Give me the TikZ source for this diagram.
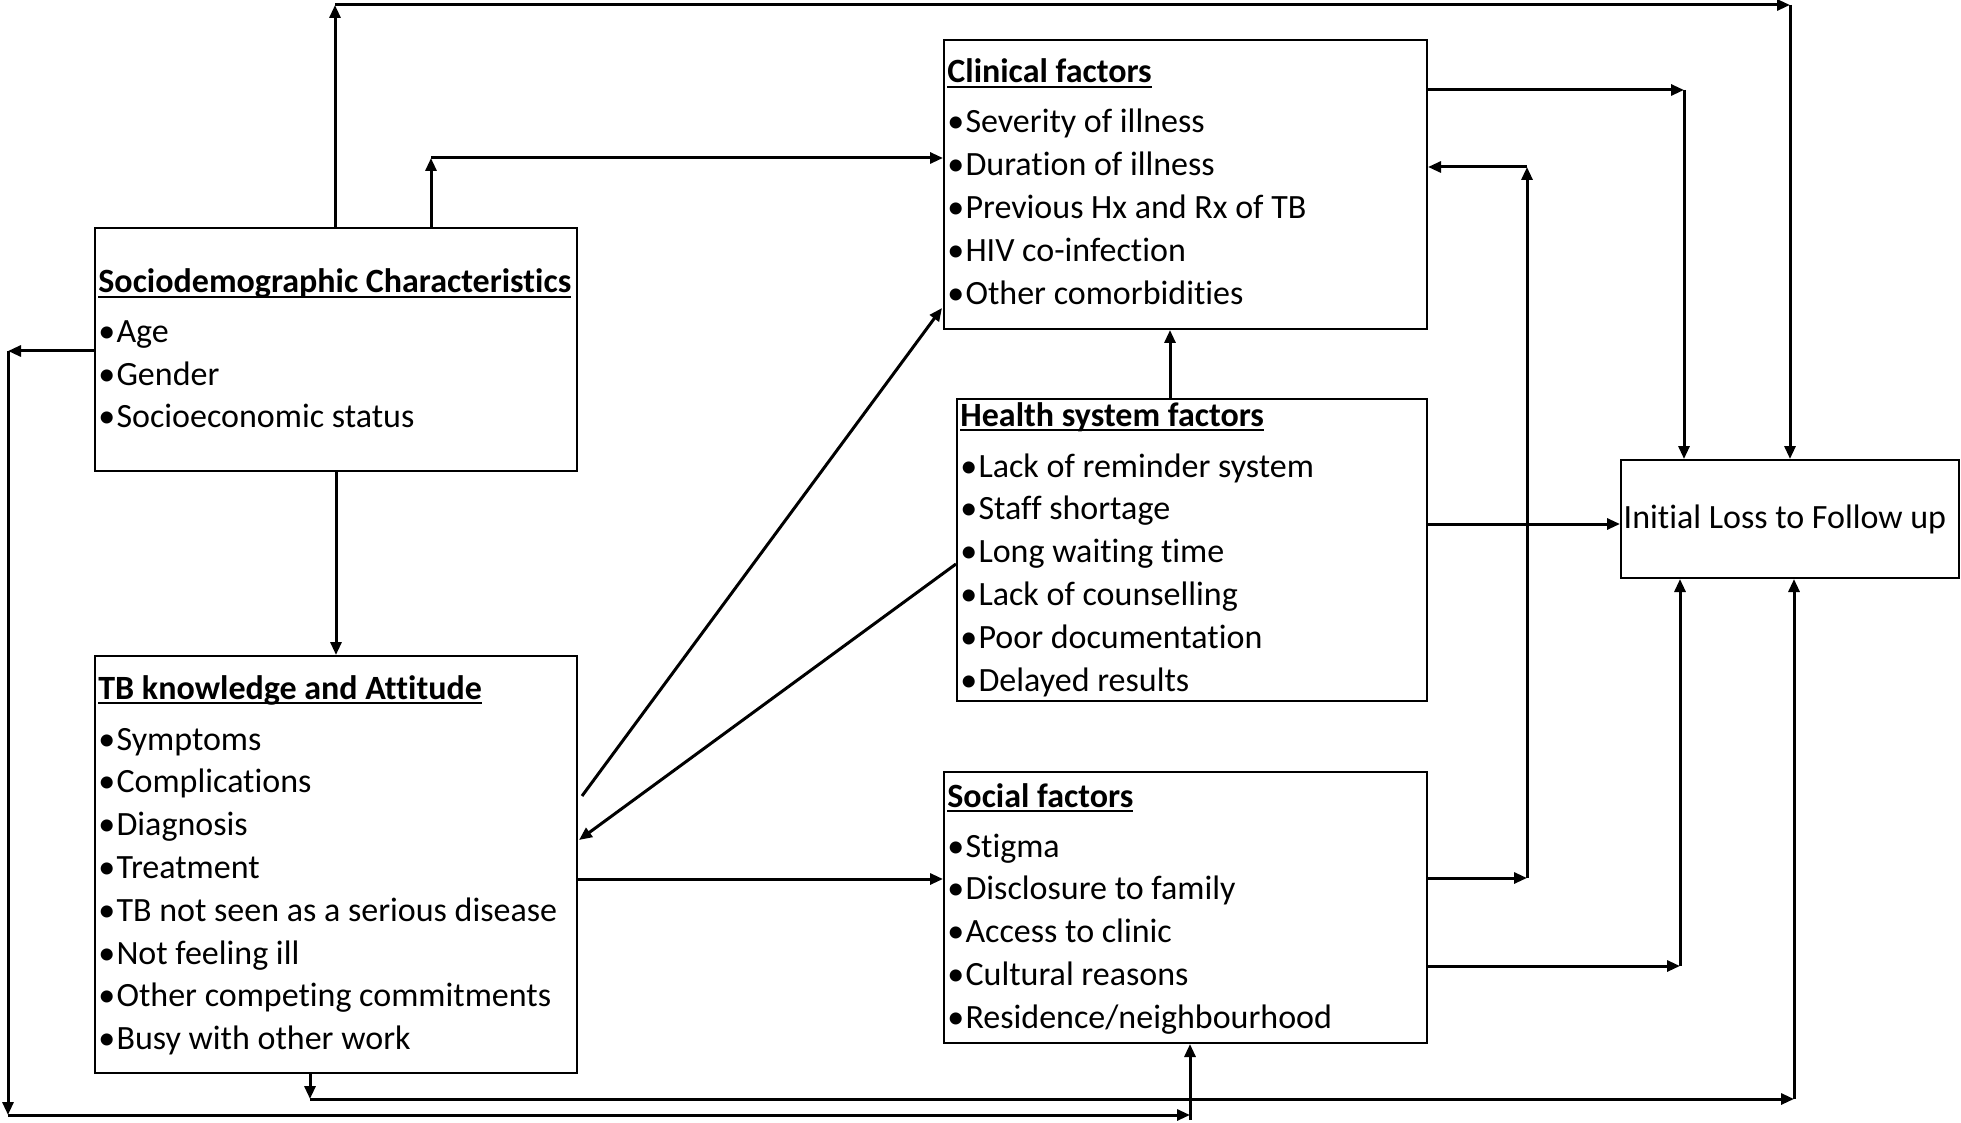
\documentclass[tikz,border=0pt]{standalone}
\usepackage{fontspec}
\setmainfont{Carlito}[Ligatures=NoCommon]
\usetikzlibrary{arrows.meta,calc}
\newcommand\myul[1]{\setbox0\hbox{#1}\rlap{\rule[-2.4pt]{\wd0}{0.9pt}}\box0}
\newcommand\bul{•\kern0.6pt}
\begin{document}
\begin{tikzpicture}[x=0.5pt,y=-0.5pt,
  box/.style={draw,line width=1pt,inner sep=0pt},
  conn/.style={line width=1.5pt,-{Triangle[length=6.5pt,width=5.5pt]}},
  txt/.style={inner sep=0pt,anchor=base west,font=\fontsize{17}{20}\selectfont},
  ttl/.style={txt,font=\fontsize{17}{20}\selectfont\bfseries}]
\useasboundingbox (0,0) rectangle (1961,1123);

% boxes
\node[box,minimum width=241pt,minimum height=121.5pt] (socio) at (336,349.5) {};
\node[box,minimum width=241pt,minimum height=208.5pt] (tb) at (336,864.5) {};
\node[box,minimum width=241.5pt,minimum height=144.5pt] (clin) at (1185.5,184.5) {};
\node[box,minimum width=235pt,minimum height=151pt] (health) at (1192,550) {};
\node[box,minimum width=241.5pt,minimum height=135.5pt] (social) at (1185.5,907.5) {};
\node[box,minimum width=169pt,minimum height=59pt] (init) at (1790,519) {};
\node[inner sep=0pt,font=\fontsize{17}{20}\selectfont] (initt) at (1785,519) {Initial Loss to Follow up};

% texts
\node[ttl] (sociot) at (98,293) {\myul{Sociodemographic Characteristics}};
\foreach \t [count=\i] in {Age,Gender,Socioeconomic status}
  \node[txt] (so\i) at (98,{343+42.5*(\i-1)}) {\bul\t};

\node[ttl] (tbt) at (98,699) {\myul{TB knowledge and Attitude}};
\foreach \t [count=\i] in {Symptoms,Complications,Diagnosis,Treatment,TB not seen as a serious disease,Not feeling ill,Other competing commitments,Busy with other work}
  \node[txt] (tb\i) at (98,{750+42.8*(\i-1)}) {\bul\t};

\node[ttl] (clint) at (947,83) {\myul{Clinical factors}};
\foreach \t [count=\i] in {Severity of illness,Duration of illness,Previous Hx and Rx of TB,HIV co-infection,Other comorbidities}
  \node[txt] (cl\i) at (947,{133+43*(\i-1)}) {\bul\t};

\node[ttl] (healtht) at (960,426) {\myul{Health system factors}};
\foreach \t [count=\i] in {Lack of reminder system,Staff shortage,Long waiting time,Lack of counselling,Poor documentation,Delayed results}
  \node[txt] (he\i) at (960,{477+42.8*(\i-1)}) {\bul\t};

\node[ttl] (socialt) at (947,807) {\myul{Social factors}};
\foreach \t [count=\i] in {Stigma,Disclosure to family,Access to clinic,Cultural reasons,Residence/neighbourhood}
  \node[txt] (sf\i) at (947,{857+42.8*(\i-1)}) {\bul\t};

% connector corner points
\coordinate (a1) at (335,5);
\coordinate (a2) at (1790,5);
\coordinate (b1) at (431,158);
\coordinate (c1) at (8,351);
\coordinate (c2) at (8,1115);
\coordinate (c3) at (1190,1115);
\coordinate (c4) at (1190,1120);
\coordinate (e1) at (310,1099);
\coordinate (e2) at (1794,1099);
\coordinate (h1) at (577,879);
\coordinate (i1) at (1170,0);
\coordinate (j1) at (0,524);
\coordinate (k1) at (1684,90);
\coordinate (l1) at (1527,878);
\coordinate (l2) at (1527,167);
\coordinate (m1) at (1680,966);

% A
\draw[conn] (a1 |- socio.north) -- (a1);
\draw[conn] (a1) -- (a2);
\draw[conn] (a2) -- (a2 |- init.north);
% B
\draw[conn] (b1 |- socio.north) -- (b1);
\draw[conn] (b1) -- (b1 -| clin.west);
% C
\draw[conn] (c1 -| socio.west) -- (c1);
\draw[conn] (c1) -- (c2);
\draw[conn] (c2) -- (c3);
\draw[conn] (c4) -- (c4 |- social.south);
% D
\draw[conn] (socio.south) -- (tb.north);
% E
\draw[conn] (e1 |- tb.south) -- (e1);
\draw[conn] (e1) -- (e2);
\draw[conn] (e2) -- (e2 |- init.south);
% F, G
\draw[conn] ($(tb.north east)+(4,141)$) -- ($(clin.south west)+(-1,-22)$);
\draw[conn] ($(health.north west)+(0,166)$) -- ($(tb.north east)+(1,185)$);
% H
\draw[conn] (h1 -| tb.east) -- (h1 -| social.west);
% I
\draw[conn] (i1 |- health.north) -- (i1 |- clin.south);
% J
\draw[conn] (j1 -| health.east) -- (j1 -| init.west);
% K
\draw[conn] (k1 -| clin.east) -- (k1);
\draw[conn] (k1) -- (k1 |- init.north);
% L
\draw[conn] (l1 -| social.east) -- (l1);
\draw[conn] (l1) -- (l2);
\draw[conn] (l2) -- (l2 -| clin.east);
% M
\draw[conn] (m1 -| social.east) -- (m1);
\draw[conn] (m1) -- (m1 |- init.south);
\end{tikzpicture}
\end{document}
